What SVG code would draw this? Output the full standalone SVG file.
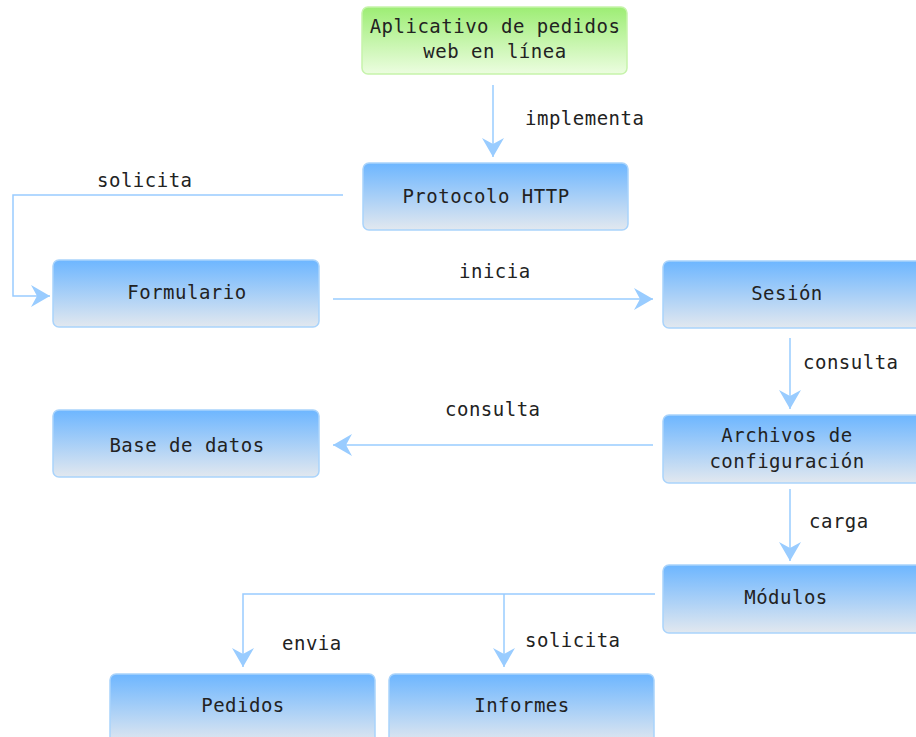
<svg xmlns="http://www.w3.org/2000/svg" width="916" height="737" viewBox="0 0 916 737">
<defs>
<linearGradient id="gBlue" x1="0" y1="0" x2="0" y2="1">
<stop offset="0" stop-color="#6db6ff"/>
<stop offset="1" stop-color="#e2e8ef"/>
</linearGradient>
<linearGradient id="gGreen" x1="0" y1="0" x2="0" y2="1">
<stop offset="0" stop-color="#9ded74"/>
<stop offset="1" stop-color="#ecfde0"/>
</linearGradient>
<marker id="arr" viewBox="-20 -12 21 24" refX="0" refY="0" markerWidth="21" markerHeight="24" markerUnits="userSpaceOnUse" orient="auto">
<path d="M 0 0 L -19 -11 L -13 0 L -19 11 Z" fill="#99ccff"/>
</marker>
</defs>
<style>
.box{fill:url(#gBlue);stroke:#a9d3fb;stroke-width:1.5}
.green{fill:url(#gGreen);stroke:#c6f3ab;stroke-width:1.5}
text{font-family:"DejaVu Sans Mono","Liberation Mono",monospace;font-size:19px;fill:#222;letter-spacing:0.5px}
.c{text-anchor:middle}
.edge{fill:none;stroke:#99ccff;stroke-width:1.5;marker-end:url(#arr)}
</style>
<g id="connectors">
<path class="edge" d="M 493 85 L 493 157"/>
<path class="edge" d="M 343 195 L 13 195 L 13 296 L 50 296"/>
<path class="edge" d="M 333 299 L 653 299"/>
<path class="edge" d="M 790 338 L 790 409"/>
<path class="edge" d="M 653 445 L 333 445"/>
<path class="edge" d="M 790 489 L 790 561"/>
<path class="edge" d="M 655 594 L 243 594 L 243 667"/>
<path class="edge" d="M 504 594 L 504 667"/>
</g>
<g id="labels">
<text x="525" y="125">implementa</text>
<text x="97" y="187">solicita</text>
<text x="459" y="278">inicia</text>
<text x="803" y="369">consulta</text>
<text x="445" y="416">consulta</text>
<text x="809" y="528">carga</text>
<text x="282" y="650">envia</text>
<text x="525" y="647">solicita</text>
</g>
<g id="n-aplicativo">
<rect class="green" x="362" y="7" width="265" height="67" rx="6"/>
<text class="c" x="495" y="33">Aplicativo de pedidos</text>
<text class="c" x="495" y="58">web en línea</text>
</g>
<g id="n-http">
<rect class="box" x="363" y="163" width="265" height="67" rx="6"/>
<text class="c" x="486" y="203">Protocolo HTTP</text>
</g>
<g id="n-formulario">
<rect class="box" x="53" y="260" width="266" height="67" rx="6"/>
<text class="c" x="187" y="299">Formulario</text>
</g>
<g id="n-sesion">
<rect class="box" x="663" y="261" width="260" height="67" rx="6"/>
<text class="c" x="787" y="300">Sesión</text>
</g>
<g id="n-basedatos">
<rect class="box" x="53" y="410" width="266" height="67" rx="6"/>
<text class="c" x="187" y="452">Base de datos</text>
</g>
<g id="n-archivos">
<rect class="box" x="663" y="415" width="260" height="68" rx="6"/>
<text class="c" x="787" y="442">Archivos de</text>
<text class="c" x="787" y="468">configuración</text>
</g>
<g id="n-modulos">
<rect class="box" x="663" y="565" width="260" height="68" rx="6"/>
<text class="c" x="786" y="604">Módulos</text>
</g>
<g id="n-pedidos">
<rect class="box" x="110" y="674" width="265" height="70" rx="6"/>
<text class="c" x="243" y="712">Pedidos</text>
</g>
<g id="n-informes">
<rect class="box" x="389" y="674" width="265" height="70" rx="6"/>
<text class="c" x="522" y="712">Informes</text>
</g>
</svg>
